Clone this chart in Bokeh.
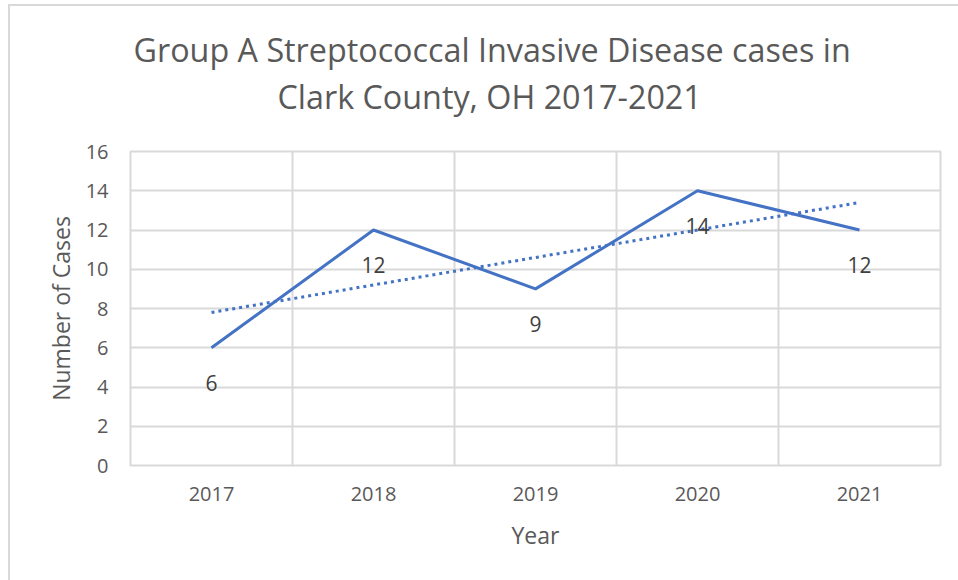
from bokeh.plotting import figure
from bokeh.models import FixedTicker, Title, ColumnDataSource
from bokeh.core.properties import value
from bokeh.embed import file_html
from bokeh.resources import INLINE

years = ["2017", "2018", "2019", "2020", "2021"]
cases = [6, 12, 9, 14, 12]
trend_years = ["2017", "2021"]
trend_values = [7.8, 13.4]
y_ticks = [0, 2, 4, 6, 8, 10, 12, 14, 16]

FONT = "Open Sans"
GRID = "#d9d9d9"
TXT = "#595959"
BLUE = "#4472C4"

pos = {y: i + 1 for i, y in enumerate(years)}
xs = [pos[y] for y in years]
txs = [pos[y] for y in trend_years]

p = figure(width=948, height=574, x_range=(0.5, len(years) + 0.5), y_range=(0, 16),
           output_backend="svg", toolbar_location=None,
           min_border_left=120, min_border_right=18, min_border_top=145, min_border_bottom=115,
           margin=(6, 0, 0, 10), styles={"outline": "2px solid #d9d9d9"})
p.title = None
p.background_fill_color = "white"
p.border_fill_color = "white"
p.outline_line_color = GRID
p.outline_line_width = 2

# spacer between plot frame and title (nearest first)
p.add_layout(Title(text=" ", text_font=FONT, text_font_size="20px", standoff=4), "above")
# titles (later added = further out)
p.add_layout(Title(text="Clark County, OH 2017-2021", align="left", offset=147,
                   text_font=FONT, text_font_size="32.3px", text_color=TXT,
                   text_font_style="normal", standoff=1), "above")
p.add_layout(Title(text="Group A Streptococcal Invasive Disease cases in", align="left", offset=3,
                   text_font=FONT, text_font_size="32.3px", text_color=TXT,
                   text_font_style="normal", standoff=1), "above")

p.xaxis.ticker = FixedTicker(ticks=xs)
p.xaxis.major_label_overrides = {pos[y]: y for y in years}
p.xgrid.ticker = FixedTicker(ticks=[i + 0.5 for i in range(1, len(years))])
p.yaxis.ticker = FixedTicker(ticks=y_ticks)

for ax in (p.xaxis[0], p.yaxis[0]):
    ax.axis_line_color = None
    ax.major_tick_line_color = None
    ax.minor_tick_line_color = None
    ax.major_label_text_font = FONT
    ax.major_label_text_font_size = "20px"
    ax.major_label_text_color = TXT
    ax.axis_label_text_font = FONT
    ax.axis_label_text_font_size = "23px"
    ax.axis_label_text_font_style = "normal"
    ax.axis_label_text_color = TXT

p.xaxis.axis_label = "Year"
p.yaxis.axis_label = "Number of Cases"
p.xaxis.major_label_standoff = 15
p.xaxis.axis_label_standoff = 15
p.yaxis.major_label_standoff = 16
p.yaxis.axis_label_standoff = 6

for g in (p.xgrid[0], p.ygrid[0]):
    g.grid_line_color = GRID
    g.grid_line_width = 2

p.line(xs, cases, line_color=BLUE, line_width=3)
p.line(txs, trend_values, line_color=BLUE, line_width=3, line_dash="3 4")

src = ColumnDataSource(dict(x=xs, y=cases, t=[str(c) for c in cases]))
p.text(x="x", y="y", text="t", source=src, text_align="center", text_baseline="middle",
       y_offset=35, text_font=value(FONT), text_font_size="21px", text_color="#404040")

open("out.html", "w").write(file_html(p, INLINE))
